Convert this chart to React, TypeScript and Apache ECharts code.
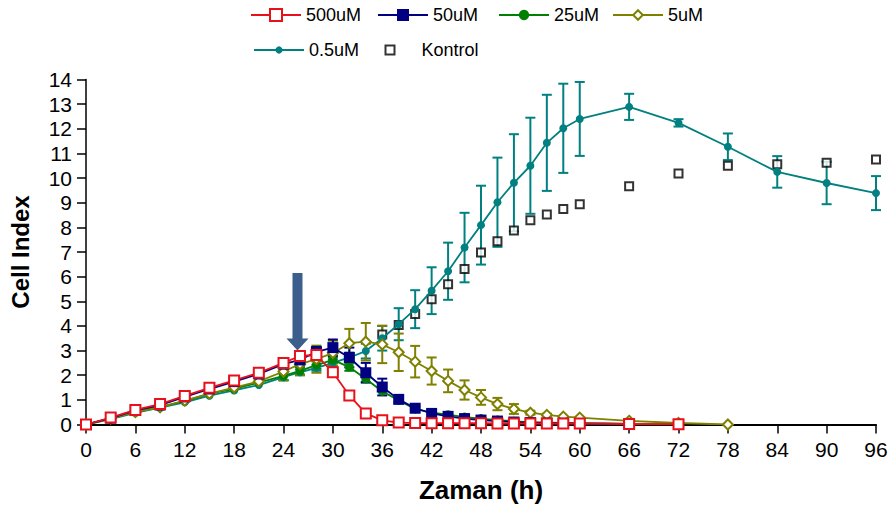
import React, { useEffect, useRef } from 'react';
import * as echarts from 'echarts';

// Sampling times (h)
const hours = [0, 3, 6, 9, 12, 15, 18, 21, 24, 26, 28, 30, 32, 34, 36, 38, 40, 42, 44, 46, 48, 50, 52, 54, 56, 58, 60, 66, 72, 78, 84, 90, 96];

// Cell Index per dose (null = not measured)
const uM500 = [0, 0.28, 0.59, 0.83, 1.16, 1.49, 1.79, 2.1, 2.5, 2.78, 2.82, 2.12, 1.18, 0.45, 0.17, 0.08, 0.06, 0.05, 0.05, 0.05, 0.05, 0.04, 0.04, 0.04, 0.04, 0.04, 0.04, 0.02, 0.01, null, null, null, null];
const uM50 = [0, 0.26, 0.57, 0.79, 1.12, 1.44, 1.74, 2.05, 2.45, 2.62, 2.95, 3.12, 2.72, 2.1, 1.52, 1.02, 0.66, 0.45, 0.33, 0.24, 0.18, 0.14, 0.1, 0.08, 0.06, 0.05, 0.04, 0.02, null, null, null, null, null];
const uM25 = [0, 0.25, 0.52, 0.72, 0.95, 1.25, 1.45, 1.7, 1.97, 2.18, 2.41, 2.62, 2.33, 1.85, 1.35, 0.98, 0.63, 0.48, 0.4, 0.3, 0.24, 0.18, 0.13, 0.1, 0.08, 0.06, 0.05, 0.02, 0.01, null, null, null, null];
const uM5 = [0, 0.24, 0.5, 0.7, 0.97, 1.25, 1.5, 1.75, 2.15, 2.45, 2.65, 2.9, 3.3, 3.36, 3.25, 2.93, 2.55, 2.17, 1.77, 1.4, 1.1, 0.83, 0.63, 0.48, 0.39, 0.32, 0.28, 0.15, 0.06, 0, null, null, null];
const uM05 = [0, 0.22, 0.47, 0.68, 0.9, 1.17, 1.38, 1.6, 1.92, 2.12, 2.3, 2.5, 2.72, 2.98, 3.5, 4.07, 4.68, 5.43, 6.22, 7.18, 8.09, 9.02, 9.81, 10.5, 11.43, 12.02, 12.4, 12.89, 12.24, 11.27, 10.25, 9.8, 9.39];
const kontrol = [null, null, null, null, null, null, null, null, null, null, null, null, null, null, 3.65, 4.04, 4.48, 5.08, 5.69, 6.31, 6.98, 7.44, 7.87, 8.29, 8.52, 8.74, 8.94, 9.67, 10.19, 10.5, 10.56, 10.62, 10.75];

// Standard deviations (null = no error bar drawn)
const sd50 = [null, null, null, null, null, null, null, null, 0.1, 0.12, 0.2, 0.33, 0.4, 0.4, 0.34, 0.12, 0.08, null, null, null, null, null, null, null, null, null, null, null, null, null, null, null, null];
const sd25 = [null, null, null, null, null, null, null, null, 0.18, 0.15, 0.15, 0.12, 0.15, 0.12, null, null, null, null, null, null, null, null, null, null, null, null, null, null, null, null, null, null, null];
const sd5 = [null, null, null, null, null, null, null, null, 0.35, 0.45, 0.55, 0.5, 0.58, 0.76, 0.76, 0.76, 0.64, 0.55, 0.46, 0.39, 0.3, 0.25, 0.2, 0.08, 0.05, null, null, null, null, null, null, null, null];
const sd05 = [null, null, null, null, null, null, null, null, 0.12, 0.12, 0.12, 0.15, 0.2, 0.3, 0.5, 0.65, 0.77, 0.95, 1.16, 1.41, 1.6, 1.81, 1.97, 1.95, 1.95, 1.81, 1.5, 0.53, 0.15, 0.54, 0.64, 0.86, 0.69];

// Treatment arrow: [hour, top, tip]
const arrowAt = [25.7, 6.15, 3.0];

const FONT = '"Liberation Sans", Arial, Helvetica, sans-serif';

const RED = '#e8101a';
const NAVY = '#000080';
const GREEN = '#008000';
const OLIVE = '#808000';
const TEAL = '#008080';
const BLACK = '#000000';
const ARROW = '#3b5e8c';

function pairs(vals: (number | null)[]) {
  return hours.map((h, i) => [h, vals[i]]).filter((p) => p[1] != null);
}

function bars(vals: (number | null)[], sds: (number | null)[]) {
  return hours
    .map((h, i) => (vals[i] == null || sds[i] == null ? null : [h, (vals[i] as number) - (sds[i] as number), (vals[i] as number) + (sds[i] as number)]))
    .filter((p) => p != null);
}

function errorSeries(id: string, color: string, data: any[]) {
  return {
    type: 'custom',
    id,
    silent: true,
    data,
    encode: { x: 0, y: [1, 2] },
    renderItem: (_params: any, api: any) => {
      const x = api.value(0);
      const lo = api.coord([x, api.value(1)]);
      const hi = api.coord([x, api.value(2)]);
      const cap = 5;
      const style = { stroke: color, lineWidth: 2 };
      return {
        type: 'group',
        children: [
          { type: 'line', shape: { x1: lo[0], y1: lo[1], x2: hi[0], y2: hi[1] }, style },
          { type: 'line', shape: { x1: lo[0] - cap, y1: lo[1], x2: lo[0] + cap, y2: lo[1] }, style },
          { type: 'line', shape: { x1: hi[0] - cap, y1: hi[1], x2: hi[0] + cap, y2: hi[1] }, style },
        ],
      };
    },
  };
}

function lineSeries(name: string, color: string, vals: (number | null)[], symbol: string, size: number) {
  return {
    type: 'line',
    name,
    data: pairs(vals),
    symbol,
    symbolSize: size,
    showAllSymbol: true,
    color,
    itemStyle: { color },
    lineStyle: { color, width: 1.8 },
  };
}

const legendBase = {
  orient: 'horizontal',
  padding: 0,
  itemWidth: 50,
  selectedMode: false,
  textStyle: { fontFamily: FONT, fontSize: 18, color: '#000' },
};

export default function App() {
  const ref = useRef<HTMLDivElement>(null);

  useEffect(() => {
    if (!ref.current) return;
    const chart = echarts.init(ref.current, null, { renderer: 'svg' });
    chart.setOption({
      animation: false,
      backgroundColor: '#fff',
      textStyle: { fontFamily: FONT },
      legend: [
        { ...legendBase, data: ['500uM'], left: 250, top: 6, itemHeight: 15 },
        { ...legendBase, data: ['50uM'], left: 377, top: 6, itemHeight: 15 },
        { ...legendBase, data: ['25uM'], left: 498, top: 6, itemHeight: 13 },
        { ...legendBase, data: ['5uM'], left: 612, top: 6, itemHeight: 12 },
        { ...legendBase, data: ['0.5uM'], left: 253, top: 41, itemHeight: 9 },
        {
          ...legendBase,
          data: ['Kontrol'],
          left: 384.5,
          top: 41,
          itemWidth: 9,
          itemHeight: 9,
          textStyle: { ...legendBase.textStyle, padding: [0, 0, 0, 22] },
        },
      ],
      grid: { left: 86, right: 17, top: 79.5, bottom: 86.5, containLabel: false },
      xAxis: {
        type: 'value',
        min: 0,
        max: 96,
        interval: 6,
        name: 'Zaman (h)',
        nameLocation: 'middle',
        nameGap: 52,
        nameTextStyle: { fontFamily: FONT, fontSize: 26, fontWeight: 'bold', color: '#000' },
        axisLine: { lineStyle: { color: '#000', width: 2 } },
        axisTick: { length: 9, lineStyle: { color: '#000', width: 1.5 } },
        axisLabel: { margin: 14, fontFamily: FONT, fontSize: 21, color: '#000' },
        splitLine: { show: false },
      },
      yAxis: {
        type: 'value',
        min: 0,
        max: 14,
        interval: 1,
        name: 'Cell Index',
        nameLocation: 'middle',
        nameRotate: 90,
        nameGap: 54,
        nameTextStyle: { fontFamily: FONT, fontSize: 24, fontWeight: 'bold', color: '#000' },
        axisLine: { show: true, lineStyle: { color: '#000', width: 1.5 } },
        axisTick: { show: true, length: 9, lineStyle: { color: '#000', width: 1.5 } },
        axisLabel: { margin: 14, fontFamily: FONT, fontSize: 21, color: '#000' },
        splitLine: { show: false },
      },
      series: [
        errorSeries('sd05', TEAL, bars(uM05, sd05)),
        lineSeries('0.5uM', TEAL, uM05, 'circle', 8),
        errorSeries('sd25', GREEN, bars(uM25, sd25)),
        lineSeries('25uM', GREEN, uM25, 'circle', 9),
        errorSeries('sd5', OLIVE, bars(uM5, sd5)),
        lineSeries('5uM', OLIVE, uM5, 'emptyDiamond', 10),
        errorSeries('sd50', NAVY, bars(uM50, sd50)),
        lineSeries('50uM', NAVY, uM50, 'rect', 11),
        {
          type: 'scatter',
          name: 'Kontrol',
          data: pairs(kontrol),
          symbol: 'rect',
          symbolSize: 8,
          itemStyle: { color: '#ffffff', borderColor: BLACK, borderWidth: 2 },
        },
        lineSeries('500uM', RED, uM500, 'emptyRect', 10),
        {
          type: 'custom',
          id: 'arrow',
          silent: true,
          data: [arrowAt],
          encode: { x: 0, y: [1, 2] },
          renderItem: (_params: any, api: any) => {
            const x = api.value(0);
            const top = api.coord([x, api.value(1)]);
            const tip = api.coord([x, api.value(2)]);
            const cx = top[0];
            const shaft = 5;
            const head = 11;
            const headLen = 12;
            const neck = tip[1] - headLen;
            return {
              type: 'polygon',
              shape: {
                points: [
                  [cx - shaft, top[1]],
                  [cx + shaft, top[1]],
                  [cx + shaft, neck],
                  [cx + head, neck],
                  [cx, tip[1]],
                  [cx - head, neck],
                  [cx - shaft, neck],
                ],
              },
              style: { fill: ARROW },
            };
          },
        },
      ],
    });
    return () => chart.dispose();
  }, []);

  return <div ref={ref} style={{ position: 'fixed', left: 0, top: 0, width: 893, height: 511 }} />;
}
